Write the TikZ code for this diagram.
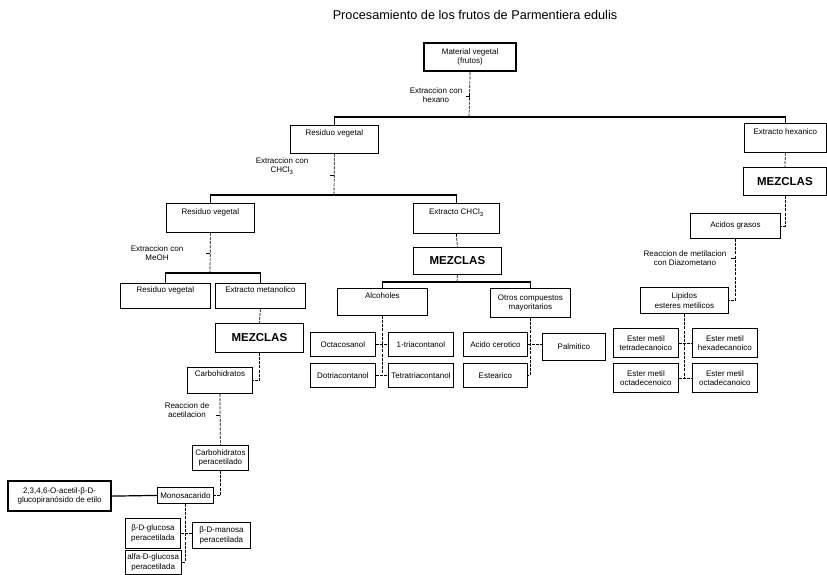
\documentclass[tikz,border=0pt]{standalone}
\usepackage{fontspec}
\setmainfont{Liberation Sans}

\tikzset{
  caja/.style={draw, line width=0.8pt, anchor=north west, inner sep=2pt, align=center, font=\fontsize{8}{9.5}\selectfont},
  cajaalta/.style={caja, text height=7pt, text depth=14pt},
  mezcla/.style={caja, font=\fontsize{11.5}{13}\selectfont\bfseries},
  gruesa/.style={caja, line width=2.2pt},
  rotulo/.style={align=center, font=\fontsize{8}{9.5}\selectfont, inner sep=0pt},
  enlace/.style={line width=0.7pt, dash pattern=on 3pt off 1.2pt},
  bus/.style={line width=1.2pt},
}

\begin{document}
\begin{tikzpicture}[x=1pt,y=-1pt]
\useasboundingbox (0,0) rectangle (827,574);

\node [font=\fontsize{12.7}{14}\selectfont] (titulo) at (475,15) {Procesamiento de los frutos de Parmentiera edulis};

% primer nivel
\node [gruesa, minimum width=92, minimum height=28] (mat) at (423,42) {Material vegetal\\(frutos)};
\node [cajaalta, minimum width=88, minimum height=28] (rv1) at (290,125) {Residuo vegetal};
\node [cajaalta, minimum width=82, minimum height=29] (eh) at (744,123) {Extracto hexanico};
\node [mezcla, minimum width=83, minimum height=28] (mzr) at (743,167) {MEZCLAS};
\node [caja, minimum width=90, minimum height=25] (ag) at (690,213) {Acidos grasos};

% extraccion con CHCl3
\node [cajaalta, minimum width=88, minimum height=29] (rv2) at (166,203) {Residuo vegetal};
\node [cajaalta, minimum width=86, minimum height=30] (ech) at (413,203) {Extracto CHCl\textsubscript{3}};
\node [mezcla, minimum width=88, minimum height=27] (mzc) at (413,247) {MEZCLAS};

% extraccion con MeOH
\node [cajaalta, minimum width=90, minimum height=25] (rv3) at (120,283) {Residuo vegetal};
\node [cajaalta, minimum width=90, minimum height=25] (em) at (215,283) {Extracto metanolico};
\node [mezcla, minimum width=88, minimum height=29] (mzl) at (215,323) {MEZCLAS};
\node [cajaalta, minimum width=65, minimum height=26] (carb) at (187,367) {Carbohidratos};
\node [caja, minimum width=56, minimum height=25] (carbp) at (192,445) {Carbohidratos\\peracetilado};
\node [caja, minimum width=56, minimum height=16] (mono) at (157,487) {Monosacarido};
\node [gruesa, minimum width=103, minimum height=30] (glu) at (7,480) {2,3,4,6-O-acetil-β-D-\\glucopiranósido de etilo};
\node [caja, minimum width=55, minimum height=30] (bglu) at (125,518) {β-D-glucosa\\peracetilada};
\node [caja, minimum width=58, minimum height=26] (bman) at (192,522) {β-D-manosa\\peracetilada};
\node [caja, minimum width=55, minimum height=24] (aglu) at (125,550) {alfa-D-glucosa\\peracetilada};

% alcoholes y otros
\node [cajaalta, minimum width=90, minimum height=27] (alc) at (337,288) {Alcoholes};
\node [caja, minimum width=80, minimum height=29] (otros) at (490,288) {Otros compuestos\\mayoritarios};
\node [caja, minimum width=65, minimum height=24] (octa) at (310,332) {Octacosanol};
\node [caja, minimum width=65, minimum height=24] (tria) at (388,332) {1-triacontanol};
\node [caja, minimum width=65, minimum height=24] (dotr) at (310,363) {Dotriacontanol};
\node [caja, minimum width=65, minimum height=24] (tetr) at (388,363) {Tetratriacontanol};
\node [caja, minimum width=64, minimum height=24] (acer) at (463,332) {Acido cerotico};
\node [caja, minimum width=64, minimum height=24] (este) at (463,363) {Estearico};
\node [caja, minimum width=63, minimum height=27] (palm) at (542,333) {Palmitico};

% esteres metilicos
\node [caja, minimum width=88, minimum height=26] (lip) at (640,287) {Lipidos\\esteres metilicos};
\node [caja, minimum width=65, minimum height=29] (etd) at (613,328) {Ester metil\\tetradecanoico};
\node [caja, minimum width=65, minimum height=29] (ehd) at (692,328) {Ester metil\\hexadecanoico};
\node [caja, minimum width=65, minimum height=29] (eode) at (613,363) {Ester metil\\octadecenoico};
\node [caja, minimum width=65, minimum height=29] (eoda) at (692,363) {Ester metil\\octadecanoico};

% rotulos
\node [rotulo] (lhex) at (436,95) {Extraccion con\\hexano};
\node [rotulo] (lchc) at (282,166) {Extraccion con\\CHCl\textsubscript{3}};
\node [rotulo] (lmeo) at (157,253) {Extraccion con\\MeOH};
\node [rotulo] (lace) at (187,410) {Reaccion de\\acetilacion};
\node [rotulo] (lmet) at (685,258) {Reaccion de metilacion\\con Diazometano};

% conectores
\coordinate (b1) at (469,117);
\coordinate (b2) at (334,195);
\coordinate (b3) at (210,273);
\coordinate (b4) at (457,282);

\draw [enlace] (mat.south) -- coordinate[pos=0.53] (t1) (b1);
\draw [bus] (rv1.north) |- (b1) -| (eh.north);
\draw [enlace] (eh.south) -- (mzr.north);
\draw [enlace] (mzr.south) |- (ag.east);
\draw [enlace] (ag.south) |- coordinate[pos=0.16] (t5) (lip.east);

\draw [enlace] (rv1.south) -- coordinate[pos=0.52] (t2) (b2);
\draw [bus] (rv2.north) |- (b2) -| (ech.north);
\draw [enlace] (ech.south) -- (mzc.north);
\draw [enlace] (mzc.south) -- (b4);
\draw [bus] (alc.north) |- (b4) -| (otros.north);

\draw [enlace] (rv2.south) -- coordinate[pos=0.51] (t3) (b3);
\draw [bus] (rv3.north) |- (b3) -| (em.north);
\draw [enlace] (em.south) -- (mzl.north);
\draw [enlace] (mzl.south) |- (carb.east);
\draw [enlace] (carb.south) -- coordinate[pos=0.42] (t4) (carbp.north);
\draw [enlace] (carbp.south) |- (mono.east);
\draw [bus] (glu.east) -- (mono.west);
\draw [enlace] (mono.south) |- (aglu.east);
\draw [enlace] (bglu.east) -- (bglu.east -| bman.west);

\draw [enlace] (alc.south) -- (alc.south |- tetr.west);
\draw [enlace] (octa.east) -- (tria.west);
\draw [enlace] (dotr.east) -- (tetr.west);
\draw [enlace] (otros.south) |- (este.east);
\draw [enlace] (acer.east) -- (acer.east -| palm.west);

\draw [enlace] (lip.south) -- (lip.south |- eode.east);
\draw [enlace] (etd.east) -- (ehd.west);
\draw [enlace] (eode.east) -- (eoda.west);

% marcas
\foreach \t in {t1,t2,t3,t4,t5}
  \draw [line width=0.8pt] (\t) -- ++(-4,0);

\end{tikzpicture}
\end{document}
